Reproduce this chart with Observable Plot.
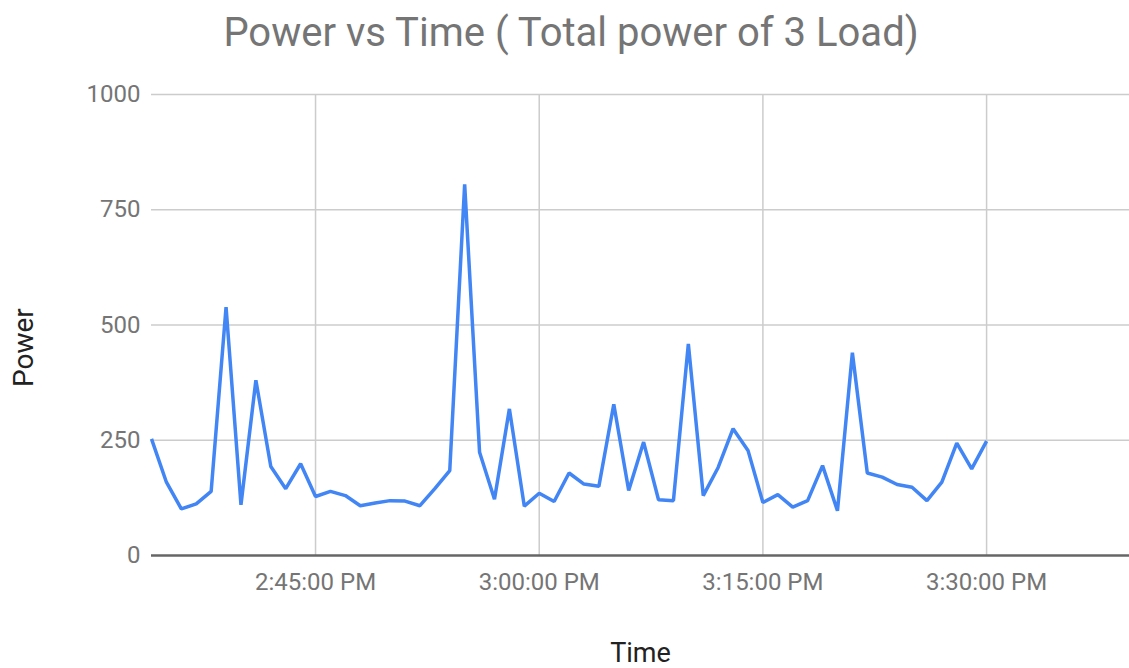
<!DOCTYPE html>
<html>
<head>
<meta charset="utf-8">
<script src="https://cdn.jsdelivr.net/npm/d3@7"></script>
<script src="https://cdn.jsdelivr.net/npm/@observablehq/plot@0.6"></script>
<style>
  html, body { margin: 0; padding: 0; background: #fff; }
  #title {
    width: 1142px; height: 70px; box-sizing: border-box;
    padding-top: 13px; line-height: 40px;
    text-align: center; font-family: Roboto, sans-serif; font-size: 40px;
    color: #757575; white-space: nowrap;
  }
  #chart svg { display: block; }
</style>
</head>
<body>
<div id="title">Power vs Time ( Total power of 3 Load)</div>
<div id="chart"></div>
<script>
const times = [
  "14:34","14:35","14:36","14:37","14:38","14:39","14:40","14:41","14:42","14:43",
  "14:44","14:45","14:46","14:47","14:48","14:49","14:50","14:51","14:52","14:53",
  "14:54","14:55","14:56","14:57","14:58","14:59","15:00","15:01","15:02","15:03",
  "15:04","15:05","15:06","15:07","15:08","15:09","15:10","15:11","15:12","15:13",
  "15:14","15:15","15:16","15:17","15:18","15:19","15:20","15:21","15:22","15:23",
  "15:24","15:25","15:26","15:27","15:28","15:29","15:30"
];
const power = [
  253, 159, 101, 112, 139, 539, 110, 380, 193, 145,
  199, 128, 139, 130, 108, 114, 119, 118, 108, 145,
  184, 805, 224, 122, 318, 107, 135, 117, 179, 155,
  150, 328, 141, 246, 121, 119, 459, 130, 191, 275,
  228, 115, 132, 105, 119, 195, 97, 440, 179, 170,
  154, 148, 119, 159, 244, 188, 248
];
const xDomain = ["14:34:00", "15:39:35"];
const xTickTimes = ["14:45", "15:00", "15:15", "15:30"];
const yTicks = [0, 250, 500, 750, 1000];
const yGrid = [250, 500, 750, 1000];

function toDate(s) {
  const [h, m, sec] = s.split(":").map(Number);
  return new Date(Date.UTC(2020, 0, 1, h, m, sec || 0));
}
const data = times.map((t, i) => ({time: toDate(t), power: power[i]}));
const xTicks = xTickTimes.map(toDate);
const fmt = d3.utcFormat("%-I:%M:%S %p");

const chart = Plot.plot({
  width: 1129,
  height: 598,
  marginLeft: 151,
  marginRight: 0,
  marginTop: 24,
  marginBottom: 113,
  style: {fontFamily: "Roboto, sans-serif", fontSize: "24px", color: "#757575", background: "#fff"},
  x: {type: "utc", domain: xDomain.map(toDate)},
  y: {domain: [0, 1000]},
  marks: [
    Plot.gridX(xTicks, {stroke: "#cccccc", strokeOpacity: 1, strokeWidth: 1.5}),
    Plot.gridY(yGrid, {stroke: "#cccccc", strokeOpacity: 1, strokeWidth: 1.5}),
    Plot.axisX({ticks: xTicks, tickFormat: fmt, tickSize: 0, tickPadding: 17, label: null, fill: "#757575", fontSize: 24}),
    Plot.axisY({ticks: yTicks, tickFormat: d3.format("d"), tickSize: 0, tickPadding: 11, label: null, fill: "#757575", fontSize: 24}),
    Plot.ruleY([0], {stroke: "#666666", strokeWidth: 2.5}),
    Plot.line(data, {x: "time", y: "power", stroke: "#4285F4", strokeWidth: 3.5, strokeLinejoin: "miter", strokeLinecap: "butt"}),
    Plot.text(["Time"], {frameAnchor: "bottom", lineAnchor: "bottom", textAnchor: "middle", dy: 106, fontSize: 27, fill: "#222222"}),
    Plot.text(["Power"], {frameAnchor: "left", textAnchor: "start", lineAnchor: "middle", dx: -127, dy: 62, rotate: -90, fontSize: 28, fill: "#222222"})
  ]
});
document.getElementById("chart").appendChild(chart);
</script>
</body>
</html>
